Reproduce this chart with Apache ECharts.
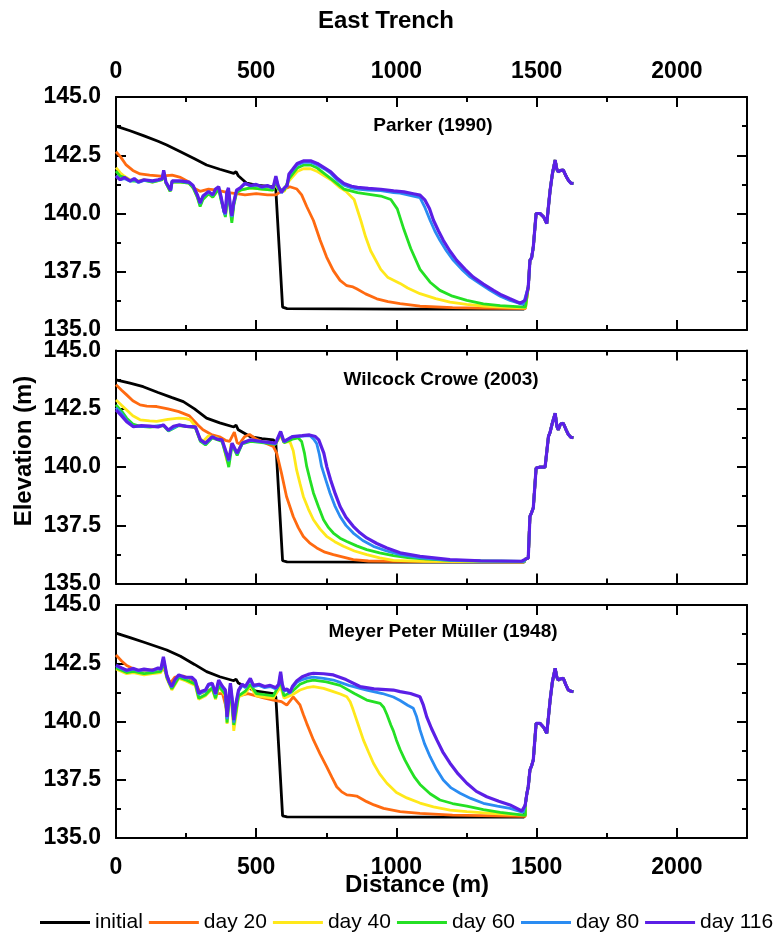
<!DOCTYPE html>
<html><head><meta charset="utf-8">
<script src="https://cdn.jsdelivr.net/npm/echarts/dist/echarts.min.js"></script>
<style>html,body{margin:0;padding:0;background:#fff}#c{width:778px;height:937px}</style>
</head><body><div id="c"></div>
<script>
// ---------- labels ----------
const seriesNames = ['initial', 'day 20', 'day 40', 'day 60', 'day 80', 'day 116'];
const seriesColors = ['#000000', '#ff6a10', '#ffe81a', '#24e024', '#2a8cf2', '#5b1fe6'];
const panelTitles = ['Parker (1990)', 'Wilcock Crowe (2003)', 'Meyer Peter M\u00fcller (1948)'];
const xTicks = [0, 500, 1000, 1500, 2000];
const yTicks = [135.0, 137.5, 140.0, 142.5, 145.0];

// ---------- Panel 1 : Parker (1990) ----------
const p1_initial = [[0,143.75],[50,143.55],[100,143.33],[150,143.1],[181,142.94],[230,142.65],[280,142.35],[323,142.08],[370,141.9],[420,141.72],[428,141.8],[436,141.62],[466,141.3],[500,141.22],[561,141.14],[570,141.0],[582,138.5],[594,135.98],[610,135.92],[1000,135.9],[1455,135.9]];
const p1_day20 = [[0,142.65],[15,142.45],[35,142.1],[60,141.85],[86,141.7],[120,141.65],[160,141.6],[200,141.65],[230,141.55],[260,141.35],[275,141.1],[300,140.95],[330,141.05],[360,141.0],[400,140.9],[430,140.85],[460,140.8],[500,140.85],[540,140.8],[570,140.8],[600,141.05],[620,141.15],[645,141.05],[662,140.8],[680,140.3],[704,139.7],[728,138.85],[751,138.13],[775,137.55],[799,137.13],[823,136.9],[845,136.85],[858,136.77],[890,136.55],[930,136.34],[970,136.22],[1013,136.13],[1084,136.02],[1200,135.96],[1300,135.94],[1460,135.92]];
const p1_day40 = [[0,141.97],[15,141.75],[30,141.6],[50,141.45],[80,141.4],[100,141.45],[130,141.35],[165,141.45],[170,141.75],[178,141.3],[193,140.95],[200,141.35],[230,141.35],[260,141.3],[275,141.15],[290,140.7],[300,140.35],[310,140.65],[330,140.85],[345,140.7],[366,141.05],[375,140.6],[390,139.9],[401,141.0],[407,140.3],[413,139.7],[420,140.4],[430,140.9],[443,141.0],[480,141.1],[520,141.05],[560,141.0],[570,141.4],[578,141.05],[600,140.95],[617,141.4],[646,141.8],[670,141.93],[694,141.92],[718,141.8],[766,141.45],[800,141.1],[820,140.95],[849,140.6],[873,139.7],[890,139.0],[908,138.4],[944,137.6],[970,137.25],[1013,137.0],[1040,136.8],[1084,136.56],[1140,136.35],[1191,136.2],[1250,136.1],[1310,136.03],[1400,135.97],[1460,135.95]];
const p1_day60 = [[0,141.82],[15,141.6],[30,141.55],[50,141.4],[80,141.38],[100,141.42],[130,141.35],[165,141.45],[170,141.8],[178,141.3],[193,140.95],[200,141.35],[230,141.35],[260,141.3],[275,141.1],[290,140.7],[300,140.3],[310,140.6],[330,140.85],[345,140.7],[366,141.05],[375,140.55],[390,139.85],[401,141.0],[407,140.2],[413,139.6],[420,140.35],[430,140.9],[443,141.0],[480,141.1],[520,141.05],[560,141.0],[570,141.45],[578,141.05],[600,141.0],[617,141.5],[646,141.95],[670,142.08],[694,142.08],[718,141.95],[766,141.5],[813,141.05],[861,140.9],[944,140.75],[980,140.6],[1003,140.2],[1027,139.3],[1051,138.5],[1084,137.6],[1120,137.05],[1155,136.7],[1200,136.45],[1251,136.27],[1310,136.12],[1370,136.05],[1460,135.98]];
const p1_day80 = [[0,141.62],[15,141.45],[30,141.5],[50,141.38],[65,141.45],[80,141.33],[100,141.42],[130,141.38],[150,141.42],[165,141.48],[170,141.8],[178,141.33],[190,141.08],[195,140.98],[200,141.38],[230,141.38],[260,141.33],[275,141.18],[290,140.78],[300,140.42],[310,140.72],[330,140.92],[345,140.78],[355,141.02],[366,141.12],[375,140.65],[385,140.05],[390,139.95],[395,140.85],[401,141.08],[407,140.35],[413,139.85],[420,140.45],[430,140.97],[443,141.08],[460,141.27],[480,141.18],[500,141.22],[520,141.12],[540,141.17],[560,141.08],[570,141.55],[578,141.18],[590,140.88],[600,141.08],[610,141.17],[617,141.65],[630,141.85],[646,142.08],[670,142.2],[694,142.2],[718,142.08],[745,141.9],[766,141.72],[790,141.42],[813,141.22],[840,141.1],[861,141.05],[900,141.0],[944,140.98],[990,140.9],[1013,140.87],[1060,140.75],[1084,140.68],[1100,140.3],[1120,139.71],[1137,139.25],[1155,138.85],[1178,138.4],[1203,137.99],[1233,137.6],[1263,137.27],[1300,136.97],[1334,136.7],[1370,136.45],[1405,136.27],[1452,136.1]];
const p1_day116 = [[0,141.6],[15,141.45],[30,141.55],[50,141.4],[65,141.5],[80,141.35],[100,141.45],[130,141.4],[150,141.45],[165,141.5],[170,141.85],[178,141.35],[190,141.1],[195,141.0],[200,141.4],[230,141.4],[260,141.35],[275,141.2],[290,140.8],[300,140.45],[310,140.75],[330,140.95],[345,140.8],[355,141.05],[366,141.15],[375,140.7],[385,140.1],[390,140.0],[395,140.9],[401,141.1],[407,140.4],[413,139.9],[420,140.5],[430,141.0],[443,141.1],[460,141.3],[480,141.2],[500,141.25],[520,141.15],[540,141.2],[560,141.1],[570,141.6],[578,141.2],[590,140.9],[600,141.1],[610,141.2],[617,141.7],[630,141.9],[646,142.15],[670,142.26],[694,142.26],[718,142.15],[745,141.95],[766,141.79],[790,141.5],[813,141.29],[840,141.17],[861,141.12],[900,141.08],[944,141.04],[990,140.97],[1027,140.93],[1060,140.85],[1084,140.79],[1102,140.57],[1118,140.2],[1132,139.71],[1150,139.25],[1167,138.85],[1190,138.4],[1215,137.99],[1245,137.6],[1274,137.27],[1310,136.97],[1346,136.7],[1375,136.5],[1405,136.34],[1441,136.15],[1459,136.27]];
const p1_tail = [[1470,136.84],[1476,137.99],[1482,138.1],[1488,138.56],[1498,140.0],[1512,140.0],[1525,139.85],[1536,139.57],[1542,140.3],[1548,141.0],[1556,141.7],[1566,142.29],[1572,141.9],[1577,141.79],[1585,141.85],[1595,141.86],[1605,141.6],[1613,141.43],[1622,141.3],[1631,141.29]];

// ---------- Panel 2 : Wilcock Crowe (2003) ----------
const p2_initial = [[0,143.74],[50,143.6],[97,143.45],[150,143.2],[200,142.98],[240,142.81],[280,142.5],[323,142.1],[370,141.9],[420,141.72],[428,141.8],[436,141.6],[478,141.31],[520,141.22],[561,141.17],[570,141.0],[582,138.5],[594,135.98],[610,135.93],[1000,135.92],[1455,135.92]];
const p2_day20 = [[0,143.53],[20,143.3],[38,143.1],[60,142.85],[86,142.67],[110,142.62],[145,142.6],[185,142.5],[224,142.38],[262,142.2],[292,141.81],[310,141.6],[340,141.4],[369,141.3],[390,141.15],[405,141.1],[422,141.5],[432,141.05],[440,141.0],[458,141.3],[476,141.4],[500,141.2],[530,141.05],[561,140.88],[573,140.6],[590,139.74],[608,138.74],[632,137.88],[650,137.4],[668,137.02],[690,136.75],[716,136.53],[745,136.35],[775,136.24],[846,136.03],[900,135.97],[1000,135.95],[1455,135.93]];
const p2_day40 = [[0,142.88],[20,142.65],[38,142.45],[60,142.2],[86,142.03],[120,141.98],[145,141.96],[185,142.05],[224,142.1],[250,142.08],[265,142.03],[280,141.8],[295,141.3],[310,141.1],[330,141.35],[360,141.25],[380,141.1],[395,140.3],[402,140.1],[410,141.0],[420,140.8],[432,140.6],[450,141.05],[480,141.15],[520,141.1],[569,141.0],[587,141.35],[599,141.05],[620,141.1],[632,140.7],[644,139.88],[656,139.3],[668,138.74],[686,138.2],[704,137.74],[727,137.35],[751,137.03],[780,136.8],[811,136.6],[850,136.4],[894,136.24],[940,136.1],[989,136.0],[1100,135.95],[1455,135.93]];
const p2_day60 = [[0,142.67],[20,142.4],[38,142.1],[60,141.85],[86,141.75],[121,141.72],[169,141.78],[187,141.55],[224,141.78],[283,141.7],[301,141.1],[319,140.95],[343,141.25],[378,141.1],[395,140.4],[402,140.0],[408,140.03],[414,140.95],[432,140.5],[450,141.0],[480,141.1],[521,141.05],[569,140.98],[587,141.45],[599,141.05],[629,141.2],[650,141.25],[662,141.1],[672,140.6],[680,140.03],[692,139.45],[704,138.89],[722,138.3],[740,137.74],[758,137.4],[775,137.17],[799,136.95],[823,136.81],[858,136.62],[894,136.46],[940,136.32],[989,136.2],[1040,136.12],[1084,136.07],[1200,135.99],[1455,135.95]];
const p2_day80 = [[0,142.55],[20,142.3],[38,142.0],[62,141.75],[121,141.74],[169,141.8],[187,141.57],[224,141.8],[283,141.72],[301,141.15],[319,141.0],[343,141.28],[378,141.15],[402,140.25],[414,141.0],[432,140.58],[450,141.02],[480,141.15],[521,141.08],[569,141.0],[587,141.5],[599,141.08],[629,141.3],[664,141.33],[692,141.35],[705,141.2],[716,141.0],[725,140.55],[733,140.03],[748,139.45],[763,138.89],[780,138.35],[799,137.88],[820,137.5],[846,137.17],[880,136.85],[918,136.6],[965,136.4],[1013,136.24],[1084,136.1],[1191,136.0],[1300,135.97],[1455,135.95]];
const p2_day116 = [[0,142.45],[20,142.2],[38,141.95],[62,141.73],[90,141.78],[121,141.76],[150,141.72],[169,141.81],[187,141.59],[205,141.75],[224,141.81],[250,141.75],[283,141.73],[301,141.17],[319,141.03],[343,141.31],[360,141.2],[378,141.17],[402,140.31],[414,141.03],[432,140.6],[450,141.03],[480,141.17],[521,141.1],[569,141.03],[587,141.53],[599,141.1],[629,141.31],[664,141.35],[690,141.38],[711,141.31],[723,141.17],[741,140.6],[752,140.0],[765,139.46],[782,138.85],[799,138.31],[820,137.85],[846,137.46],[870,137.18],[894,136.96],[930,136.72],[966,136.53],[1013,136.32],[1084,136.17],[1191,136.03],[1300,135.98],[1447,135.96]];
const p2_tail = [[1460,136.05],[1470,136.1],[1476,137.88],[1482,138.05],[1488,138.25],[1498,139.96],[1512,140.0],[1530,140.0],[1536,140.05],[1542,141.31],[1548,141.5],[1556,141.9],[1566,142.31],[1572,141.75],[1577,141.6],[1585,141.85],[1595,141.88],[1605,141.6],[1613,141.4],[1622,141.28],[1631,141.26]];

// ---------- Panel 3 : Meyer Peter Müller (1948) ----------
const p3_initial = [[0,143.79],[50,143.6],[100,143.4],[181,143.07],[230,142.8],[280,142.45],[323,142.14],[370,141.92],[420,141.75],[428,141.82],[436,141.65],[470,141.45],[500,141.3],[561,141.2],[570,141.05],[582,138.5],[594,135.95],[610,135.91],[1000,135.9],[1455,135.9]];
const p3_day20 = [[0,142.85],[20,142.6],[38,142.4],[74,142.19],[100,142.2],[121,142.2],[150,142.25],[169,142.3],[181,142.0],[193,141.64],[210,141.9],[240,141.95],[270,141.8],[290,141.5],[300,141.2],[320,141.3],[345,141.4],[360,141.2],[380,141.2],[395,140.5],[410,141.1],[420,140.4],[437,141.1],[470,141.2],[500,141.1],[530,141.0],[561,140.92],[590,140.85],[609,140.7],[632,141.06],[656,140.71],[668,140.3],[680,139.92],[704,139.21],[728,138.6],[751,138.06],[770,137.6],[787,137.2],[805,136.98],[823,136.85],[840,136.83],[858,136.8],[894,136.56],[920,136.42],[954,136.27],[1013,136.13],[1084,136.06],[1200,135.98],[1460,135.93]];
const p3_day40 = [[0,142.25],[20,142.15],[38,142.05],[62,142.1],[100,142.0],[130,142.05],[160,142.1],[169,142.5],[181,141.85],[199,141.35],[224,141.85],[247,141.75],[283,141.55],[295,140.95],[319,141.1],[343,141.4],[355,140.95],[366,141.5],[390,141.1],[396,139.9],[408,141.4],[420,139.6],[437,141.05],[461,141.2],[479,141.5],[500,141.1],[530,141.05],[561,141.0],[587,141.5],[599,141.0],[629,141.15],[656,141.35],[680,141.45],[704,141.5],[740,141.42],[775,141.28],[800,141.18],[823,141.06],[835,140.85],[846,140.49],[864,139.85],[882,139.21],[900,138.7],[918,138.21],[940,137.75],[966,137.35],[1000,136.95],[1037,136.72],[1084,136.5],[1132,136.34],[1191,136.2],[1251,136.13],[1350,136.05],[1460,135.98]];
const p3_day60 = [[0,142.3],[20,142.2],[38,142.1],[62,142.15],[100,142.05],[130,142.1],[160,142.15],[169,142.6],[181,141.9],[199,141.4],[224,141.9],[247,141.8],[283,141.6],[295,141.0],[319,141.15],[343,141.45],[355,141.0],[366,141.55],[390,141.15],[396,139.95],[408,141.45],[420,139.85],[437,141.1],[461,141.3],[479,141.6],[500,141.2],[530,141.15],[561,141.1],[587,141.7],[599,141.1],[629,141.3],[656,141.6],[680,141.72],[704,141.78],[750,141.7],[799,141.55],[850,141.2],[894,140.92],[942,140.78],[955,140.6],[966,140.3],[980,139.85],[989,139.6],[1000,139.2],[1013,138.8],[1030,138.35],[1048,137.95],[1065,137.6],[1084,137.3],[1120,136.9],[1155,136.63],[1200,136.48],[1251,136.37],[1310,136.22],[1370,136.1],[1460,135.97]];
const p3_day80 = [[0,142.38],[20,142.27],[38,142.17],[62,142.25],[80,142.17],[100,142.22],[130,142.17],[150,142.27],[160,142.22],[169,142.7],[181,141.95],[190,141.66],[199,141.47],[210,141.77],[224,141.97],[247,141.87],[270,141.87],[283,141.72],[295,141.15],[305,141.25],[319,141.3],[330,141.55],[343,141.6],[355,141.15],[366,141.72],[380,141.45],[390,141.3],[396,140.1],[402,140.95],[408,141.6],[414,140.95],[420,139.95],[428,140.75],[437,141.3],[450,141.55],[461,141.45],[479,141.8],[490,141.5],[510,141.55],[530,141.45],[550,141.5],[570,141.4],[580,141.55],[587,142.05],[593,141.55],[599,141.3],[610,141.35],[620,141.2],[629,141.45],[645,141.68],[664,141.8],[685,141.87],[704,141.9],[740,141.85],[775,141.78],[830,141.55],[894,141.35],[950,141.2],[989,141.05],[1013,140.9],[1040,140.7],[1060,140.57],[1072,140.2],[1084,139.64],[1100,139.05],[1120,138.49],[1143,137.95],[1167,137.49],[1195,137.15],[1227,136.92],[1265,136.7],[1310,136.49],[1360,136.37],[1405,136.27],[1452,136.1]];
const p3_day116 = [[0,142.42],[20,142.3],[38,142.2],[62,142.28],[80,142.2],[100,142.25],[130,142.2],[150,142.3],[160,142.25],[169,142.78],[181,141.99],[190,141.7],[199,141.5],[210,141.8],[224,142.0],[247,141.9],[270,141.9],[283,141.75],[295,141.21],[305,141.3],[319,141.35],[330,141.6],[343,141.64],[355,141.2],[366,141.78],[380,141.5],[390,141.35],[396,140.2],[402,141.0],[408,141.64],[414,141.0],[420,140.06],[428,140.8],[437,141.35],[450,141.6],[461,141.5],[479,141.85],[490,141.55],[510,141.6],[530,141.5],[550,141.55],[570,141.45],[580,141.6],[587,142.14],[593,141.6],[599,141.35],[610,141.4],[620,141.25],[629,141.5],[645,141.75],[664,141.92],[685,142.02],[704,142.07],[740,142.05],[775,142.0],[820,141.8],[870,141.5],[920,141.4],[989,141.35],[1013,141.28],[1050,141.2],[1084,141.06],[1096,140.7],[1108,140.2],[1125,139.7],[1144,139.21],[1165,138.7],[1191,138.21],[1220,137.75],[1251,137.35],[1285,137.0],[1322,136.77],[1365,136.58],[1405,136.42],[1447,136.16]];
const p3_tail = [[1459,136.4],[1465,136.9],[1470,137.2],[1476,137.92],[1482,138.1],[1488,138.35],[1498,139.92],[1512,139.92],[1525,139.75],[1536,139.49],[1542,140.2],[1548,140.92],[1556,141.7],[1566,142.28],[1572,141.9],[1577,141.78],[1585,141.83],[1595,141.85],[1605,141.55],[1613,141.35],[1622,141.3],[1631,141.28]];

const panels = [
  {series: [p1_initial, p1_day20, p1_day40, p1_day60, p1_day80, p1_day116], tail: p1_tail},
  {series: [p2_initial, p2_day20, p2_day40, p2_day60, p2_day80, p2_day116], tail: p2_tail},
  {series: [p3_initial, p3_day20, p3_day40, p3_day60, p3_day80, p3_day116], tail: p3_tail}
];

// ---------- layout ----------
const FONT = '"Liberation Sans", Arial, Helvetica, sans-serif';
const gridLeft = 116, gridWidth = 631;
const gridTops = [97, 350.6, 605];
const gridHeight = 233;
const titlePos = [[433, 126], [441, 380], [443, 632]];

const grids = [], xAxes = [], yAxes = [], series = [], graphics = [];
const lineAxis = {show: true, onZero: false, lineStyle: {color: '#000', width: 2}};
const labelStyle = {color: '#000', fontFamily: FONT, fontWeight: 'bold', fontSize: 23};

panels.forEach((p, i) => {
  const top = gridTops[i];
  grids.push({left: gridLeft, top: top, width: gridWidth, height: gridHeight, containLabel: false, outerBoundsMode: 'none'});
  grids.push({left: gridLeft, top: top, width: gridWidth, height: gridHeight, containLabel: false, outerBoundsMode: 'none'});
  const g = 2 * i;
  const xFmt = v => (xTicks.indexOf(v) >= 0 ? String(v) : '');
  // major x axes
  ['bottom', 'top'].forEach(pos => {
    const showLab = (pos === 'top' && i === 0) || (pos === 'bottom' && i === 2);
    xAxes.push({type: 'value', gridIndex: g, position: pos, min: 0, max: 2250, interval: 500,
      axisLine: lineAxis, splitLine: {show: false},
      axisTick: {show: true, inside: true, length: 10, lineStyle: {color: '#000', width: 2}},
      axisLabel: Object.assign({show: showLab, margin: pos === 'bottom' ? 18 : 14, formatter: xFmt, showMaxLabel: true, showMinLabel: true}, labelStyle)});
  });
  // minor x axes
  ['bottom', 'top'].forEach(pos => {
    xAxes.push({type: 'value', gridIndex: g + 1, position: pos, min: 0, max: 2250, interval: 250,
      axisLine: {show: false, onZero: false}, splitLine: {show: false},
      axisTick: {show: true, inside: true, length: 5, lineStyle: {color: '#000', width: 2}},
      axisLabel: {show: false}});
  });
  ['left', 'right'].forEach(pos => {
    yAxes.push({type: 'value', gridIndex: g, position: pos, min: 135, max: 145, interval: 2.5,
      axisLine: lineAxis, splitLine: {show: false},
      axisTick: {show: true, inside: true, length: 10, lineStyle: {color: '#000', width: 2}},
      minorTick: {show: true, splitNumber: 2, length: 5, lineStyle: {color: '#000', width: 2}},
      minorSplitLine: {show: false},
      axisLabel: Object.assign({show: pos === 'left', margin: 15, showMinLabel: true, showMaxLabel: true,
        formatter: v => v.toFixed(1)}, labelStyle)});
  });
  yAxes.push({type: 'value', gridIndex: g + 1, min: 135, max: 145, show: false});

  p.series.forEach((d, k) => {
    series.push({type: 'line', name: seriesNames[k], xAxisIndex: 4 * i, yAxisIndex: 3 * i,
      data: d.concat(p.tail), showSymbol: false, symbol: 'none', silent: true,
      color: seriesColors[k], itemStyle: {color: seriesColors[k]},
      lineStyle: {color: seriesColors[k], width: k === 5 ? 3.2 : 2.8}, z: 2 + k, animation: false});
  });

  graphics.push({type: 'text', x: titlePos[i][0], y: titlePos[i][1], z: 100,
    style: {text: panelTitles[i], fill: '#000', font: 'bold 19px ' + FONT,
      align: 'center', verticalAlign: 'middle', textAlign: 'center', textVerticalAlign: 'middle'}});
});

graphics.push({type: 'text', x: 386, y: 21, style: {text: 'East Trench', fill: '#000', font: 'bold 24px ' + FONT,
  align: 'center', verticalAlign: 'middle', textAlign: 'center', textVerticalAlign: 'middle'}});
graphics.push({type: 'text', x: 417, y: 885, style: {text: 'Distance (m)', fill: '#000', font: 'bold 24px ' + FONT,
  align: 'center', verticalAlign: 'middle', textAlign: 'center', textVerticalAlign: 'middle'}});
graphics.push({type: 'text', x: 24, y: 451, rotation: Math.PI / 2, style: {text: 'Elevation (m)', fill: '#000', font: 'bold 24px ' + FONT,
  align: 'center', verticalAlign: 'middle', textAlign: 'center', textVerticalAlign: 'middle'}});

const chart = echarts.init(document.getElementById('c'), null, {renderer: 'canvas'});
chart.setOption({
  animation: false,
  backgroundColor: '#ffffff',
  grid: grids, xAxis: xAxes, yAxis: yAxes, series: series,
  legend: {data: seriesNames, left: 40, top: 912, icon: 'rect', itemWidth: 50, itemHeight: 3, itemGap: 6,
    selectedMode: false, padding: 0,
    textStyle: {color: '#000', fontFamily: FONT, fontSize: 21}},
  graphic: graphics
});
</script></body></html>
